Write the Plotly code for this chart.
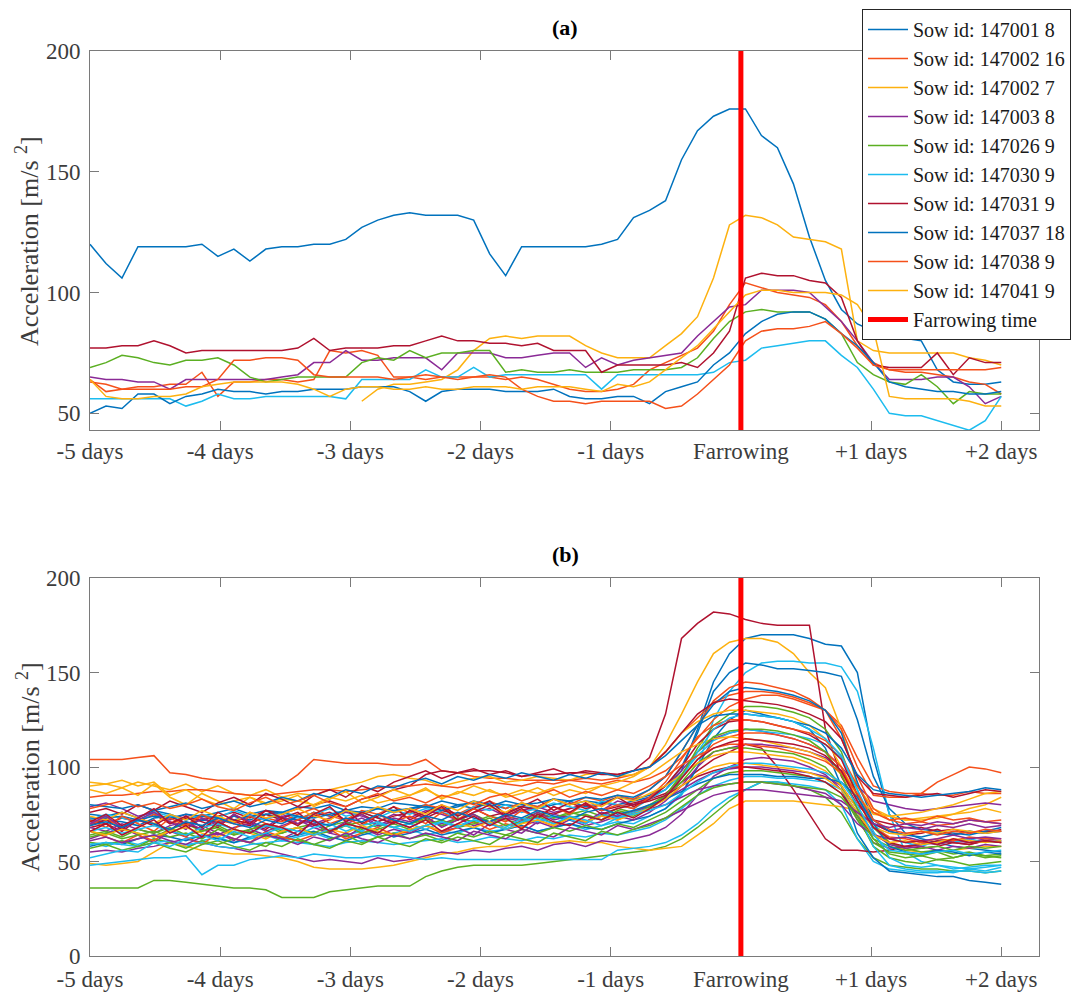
import plotly.graph_objects as go

# ---------------------------------------------------------------------------
# Time axis: days relative to farrowing, 58 readings from -5 to +2 days
# ---------------------------------------------------------------------------
n_samples = 58
days = [-5 + 7 * i / (n_samples - 1) for i in range(n_samples)]

tick_days = [-5, -4, -3, -2, -1, 0, 1, 2]
tick_text = ["-5 days", "-4 days", "-3 days", "-2 days", "-1 days",
             "Farrowing", "+1 days", "+2 days"]
farrowing_day = 0

# ---------------------------------------------------------------------------
# (a) Individual sows, acceleration [m/s^2]
# ---------------------------------------------------------------------------
sow_147001_8 = [
    120, 112, 106, 119, 119, 119, 119, 120, 115, 118, 113, 118, 119, 119, 120, 120, 122, 127, 130, 132,
    133, 132, 132, 132, 130, 116, 107, 119, 119, 119, 119, 119, 120, 122, 131, 134, 138, 155, 167, 173,
    176, 176, 165, 160, 145, 123, 105, 93, 87, 84, 82, 81, 80, 68, 63, 62, 62, 63]
sow_147002_16 = [
    64, 59, 60, 61, 61, 62, 62, 67, 57, 63, 63, 64, 64, 63, 64, 76, 75, 76, 74, 65,
    65, 64, 65, 65, 65, 65, 64, 65, 64, 62, 60, 59, 59, 60, 62, 68, 71, 74, 77, 84,
    95, 104, 102, 100, 99, 98, 95, 88, 78, 71, 68, 67, 67, 66, 65, 63, 62, 58]
sow_147002_7 = [None] * 17 + [
    55, 60, 62,
    62, 63, 64, 68, 76, 81, 82, 81, 82, 82, 82, 78, 75, 73, 73, 73, 78, 83, 90, 106,
    128, 132, 131, 128, 123, 122, 121, 118, 80, 76, 75, 75, 75, 75, 75, 73, 72, 70]
sow_147003_8 = [
    65, 64, 64, 63, 63, 60, 64, 64, 64, 64, 64, 64, 65, 66, 71, 71, 76, 72, 72, 73,
    73, 73, 68, 75, 75, 75, 73, 73, 74, 75, 75, 69, 73, 70, 72, 73, 74, 75, 82, 88,
    94, 95, 101, 101, 101, 100, 94, 88, 80, 71, 64, 64, 64, 65, 65, 61, 54, 57]
sow_147026_9 = [
    69, 71, 74, 73, 71, 70, 72, 72, 73, 70, 65, 63, 64, 65, 65, 65, 65, 71, 73, 72,
    76, 73, 75, 75, 76, 76, 67, 68, 67, 67, 68, 67, 67, 67, 68, 68, 68, 69, 73, 81,
    88, 92, 93, 92, 92, 92, 89, 83, 71, 66, 63, 62, 66, 61, 54, 59, 58, 58]
sow_147030_9 = [
    56, 56, 56, 56, 56, 56, 53, 55, 58, 56, 56, 57, 57, 57, 57, 57, 56, 64, 64, 64,
    64, 68, 65, 65, 69, 65, 66, 66, 66, 66, 66, 66, 60, 66, 66, 66, 66, 66, 66, 67,
    71, 72, 77, 78, 79, 80, 80, 74, 69, 60, 50, 49, 49, 47, 45, 43, 47, 57]
sow_147031_9 = [
    77, 77, 78, 78, 80, 78, 75, 76, 76, 76, 76, 76, 76, 77, 81, 76, 77, 77, 77, 78,
    78, 80, 82, 80, 80, 79, 79, 78, 79, 76, 76, 76, 67, 70, 70, 70, 70, 71, 69, 75,
    84, 106, 108, 107, 107, 105, 104, 98, 80, 70, 69, 69, 69, 75, 66, 73, 71, 71]
sow_147037_18 = [
    50, 53, 52, 58, 58, 54, 57, 58, 60, 59, 59, 58, 59, 59, 60, 60, 60, 61, 61, 61,
    59, 55, 59, 60, 60, 60, 59, 59, 59, 60, 57, 56, 56, 57, 57, 54, 59, 61, 63, 70,
    75, 83, 88, 91, 92, 92, 89, 83, 78, 71, 63, 61, 60, 59, 59, 58, 58, 59]
sow_147038_9 = [
    63, 62, 60, 60, 60, 60, 61, 61, 64, 72, 72, 73, 73, 72, 66, 65, 65, 65, 65, 64,
    65, 66, 65, 64, 65, 66, 65, 60, 57, 55, 55, 54, 55, 55, 55, 55, 52, 53, 58, 64,
    70, 80, 84, 85, 85, 86, 88, 83, 77, 70, 68, 68, 68, 68, 68, 68, 68, 69]
sow_147041_9 = [
    64, 57, 56, 56, 57, 57, 58, 61, 62, 63, 63, 63, 63, 62, 60, 57, 60, 61, 61, 60,
    60, 61, 60, 60, 61, 61, 61, 60, 61, 61, 61, 60, 59, 62, 61, 63, 68, 73, 78, 85,
    92, 99, 101, 101, 100, 100, 100, 99, 95, 85, 57, 56, 56, 56, 56, 55, 53, 53]

sow_names = ["Sow id: 147001 8", "Sow id: 147002 16", "Sow id: 147002 7",
             "Sow id: 147003 8", "Sow id: 147026 9", "Sow id: 147030 9",
             "Sow id: 147031 9", "Sow id: 147037 18", "Sow id: 147038 9",
             "Sow id: 147041 9"]
panel_a = [sow_147001_8, sow_147002_16, sow_147002_7, sow_147003_8, sow_147026_9,
           sow_147030_9, sow_147031_9, sow_147037_18, sow_147038_9, sow_147041_9]

# ---------------------------------------------------------------------------
# (b) All recorded farrowings
# ---------------------------------------------------------------------------
herd_01 = [75, 74, 76, 73, 77, 75, 72, 74, 76, 78, 75, 77, 76, 79, 78, 80, 77, 79, 78, 81,
           80, 79, 82, 80, 78, 81, 80, 79, 78, 80, 82, 79, 81, 80, 82, 84, 88, 98, 120, 145,
           160, 168, 170, 170, 170, 168, 165, 164, 150, 105, 75, 65, 62, 60, 58, 57, 56, 55]
herd_02 = [104, 104, 104, 105, 106, 97, 96, 94, 93, 93, 93, 93, 90, 96, 104, 103, 102, 102, 102, 101,
           101, 104, 98, 97, 95, 94, 94, 93, 93, 93, 93, 94, 93, 94, 96, 100, 108, 118, 126, 134,
           138, 140, 140, 139, 137, 134, 130, 122, 105, 90, 87, 86, 86, 92, 96, 100, 99, 97]
herd_03 = [90, 91, 89, 92, 90, 88, 91, 87, 90, 86, 85, 88, 84, 86, 85, 88, 90, 92, 95, 96,
           94, 93, 90, 92, 94, 95, 92, 93, 95, 94, 93, 96, 97, 95, 96, 100, 112, 128, 145, 160,
           166, 168, 168, 166, 160, 150, 142, 120, 90, 78, 74, 72, 72, 73, 75, 78, 80, 84]
herd_04 = [79, 81, 78, 74, 76, 72, 75, 73, 70, 74, 71, 73, 75, 72, 70, 73, 76, 74, 71, 75,
           73, 77, 75, 72, 76, 78, 74, 77, 79, 76, 78, 80, 77, 82, 80, 84, 90, 98, 108, 115,
           118, 120, 119, 117, 115, 112, 108, 100, 90, 82, 80, 78, 77, 78, 79, 80, 81, 80]
herd_05 = [36, 36, 36, 36, 40, 40, 39, 38, 37, 36, 36, 35, 31, 31, 31, 34, 35, 36, 37, 37,
           37, 42, 45, 47, 48, 48, 48, 48, 49, 50, 51, 52, 53, 54, 55, 56, 58, 62, 68, 75,
           82, 88, 92, 92, 90, 88, 84, 76, 62, 52, 48, 47, 46, 46, 45, 45, 44, 45]
herd_06 = [60, 58, 61, 59, 62, 60, 58, 61, 63, 60, 62, 64, 61, 63, 65, 62, 64, 66, 63, 65,
           67, 64, 66, 65, 68, 66, 67, 69, 66, 68, 70, 67, 69, 71, 70, 74, 78, 85, 100, 125,
           140, 150, 155, 156, 156, 155, 155, 153, 140, 110, 75, 55, 50, 48, 47, 46, 47, 48]
herd_07 = [72, 70, 73, 71, 75, 70, 73, 72, 74, 76, 73, 77, 75, 78, 80, 82, 79, 83, 85, 88,
           90, 96, 98, 97, 98, 98, 97, 95, 96, 96, 97, 97, 96, 96, 98, 105, 128, 168, 176, 182,
           181, 178, 176, 175, 175, 175, 120, 95, 80, 72, 70, 68, 68, 66, 67, 65, 66, 66]
herd_08 = [70, 72, 71, 69, 73, 74, 70, 72, 71, 74, 72, 75, 73, 72, 76, 74, 77, 75, 78, 76,
           78, 80, 77, 79, 82, 80, 78, 81, 79, 83, 80, 82, 81, 84, 83, 85, 90, 100, 118, 140,
           150, 155, 154, 152, 152, 151, 150, 148, 125, 95, 78, 70, 67, 66, 65, 64, 66, 68]
herd_09 = [84, 85, 85, 86, 87, 87, 88, 88, 87, 86, 85, 85, 86, 87, 88, 88, 87, 88, 89, 90,
           90, 91, 90, 89, 91, 92, 91, 90, 92, 91, 93, 92, 91, 93, 92, 94, 98, 105, 115, 125,
           132, 136, 138, 138, 136, 133, 130, 120, 100, 85, 84, 84, 86, 85, 85, 87, 86, 86]
herd_10 = [49, 48, 49, 50, 55, 60, 58, 56, 55, 54, 54, 53, 52, 50, 47, 46, 46, 46, 47, 48,
           50, 52, 54, 55, 57, 58, 58, 60, 59, 60, 61, 60, 60, 58, 57, 56, 57, 58, 64, 70,
           78, 82, 82, 82, 82, 81, 80, 79, 77, 70, 60, 56, 55, 55, 56, 57, 58, 58]
herd_11 = [55, 56, 55, 57, 58, 60, 62, 60, 58, 57, 55, 56, 54, 52, 50, 51, 50, 49, 52, 50,
           51, 53, 55, 54, 56, 55, 57, 58, 56, 59, 60, 58, 61, 60, 62, 64, 68, 75, 85, 95,
           100, 104, 105, 104, 103, 100, 96, 88, 72, 60, 57, 58, 60, 59, 61, 60, 62, 61]
herd_12 = [66, 64, 68, 65, 63, 67, 70, 66, 68, 64, 67, 69, 65, 68, 70, 66, 69, 71, 68, 72,
           70, 73, 69, 72, 75, 71, 74, 72, 76, 73, 75, 77, 74, 78, 76, 80, 85, 95, 110, 122,
           128, 132, 132, 131, 129, 126, 120, 108, 85, 68, 60, 57, 55, 56, 54, 55, 53, 54]
herd_13 = [48, 49, 50, 51, 52, 52, 53, 43, 48, 48, 51, 52, 53, 52, 54, 53, 52, 52, 53, 53,
           52, 51, 52, 51, 51, 51, 51, 51, 51, 51, 51, 51, 51, 56, 57, 58, 60, 64, 70, 78,
           84, 88, 92, 92, 91, 90, 88, 80, 62, 50, 46, 45, 44, 44, 45, 45, 44, 45]
herd_14 = [68, 70, 66, 72, 69, 74, 70, 67, 73, 71, 69, 75, 72, 70, 74, 76, 72, 75, 71, 74,
           76, 73, 77, 75, 78, 74, 76, 79, 77, 75, 78, 80, 77, 79, 81, 83, 86, 92, 98, 104,
           108, 112, 110, 100, 88, 75, 62, 56, 56, 55, 56, 58, 57, 58, 60, 59, 61, 60]
herd_15 = [58, 60, 59, 62, 64, 63, 61, 64, 62, 60, 63, 65, 62, 64, 66, 63, 61, 64, 66, 63,
           65, 67, 64, 66, 68, 65, 67, 69, 66, 68, 70, 68, 67, 70, 72, 74, 78, 86, 100, 115,
           125, 130, 128, 126, 124, 120, 110, 90, 65, 52, 45, 44, 43, 42, 42, 40, 39, 38]
herd_16 = [70, 73, 68, 72, 75, 71, 69, 74, 72, 70, 76, 73, 71, 75, 78, 74, 72, 77, 75, 79,
           76, 80, 78, 75, 79, 82, 78, 81, 79, 83, 80, 84, 82, 85, 83, 88, 95, 108, 122, 135,
           142, 145, 144, 142, 140, 136, 130, 115, 95, 78, 72, 70, 71, 69, 70, 72, 71, 70]
herd_17 = [92, 91, 93, 90, 92, 85, 88, 83, 80, 82, 84, 81, 83, 82, 80, 84, 82, 85, 81, 83,
           85, 88, 84, 86, 90, 87, 85, 88, 86, 89, 91, 88, 90, 92, 95, 100, 108, 118, 124, 128,
           130, 130, 129, 128, 126, 122, 115, 100, 85, 75, 74, 75, 76, 78, 80, 83, 86, 87]
herd_18 = [62, 65, 68, 64, 60, 66, 63, 69, 65, 61, 67, 64, 62, 66, 70, 65, 63, 68, 64, 67,
           65, 69, 66, 68, 64, 70, 67, 65, 71, 68, 72, 69, 71, 74, 72, 76, 82, 90, 100, 108,
           110, 112, 112, 111, 110, 108, 105, 98, 82, 70, 66, 68, 67, 69, 68, 70, 68, 69]
herd_19 = [60, 59, 61, 58, 62, 60, 57, 61, 59, 62, 60, 58, 63, 61, 59, 62, 64, 60, 63, 65,
           62, 64, 61, 65, 63, 66, 64, 67, 65, 68, 66, 69, 67, 70, 68, 72, 76, 82, 88, 94,
           97, 98, 98, 97, 96, 95, 92, 86, 72, 60, 55, 54, 53, 55, 52, 54, 53, 52]
herd_20 = [72, 75, 73, 71, 76, 74, 72, 75, 73, 77, 74, 72, 76, 73, 75, 78, 74, 76, 73, 77,
           75, 78, 76, 74, 79, 77, 80, 76, 78, 81, 79, 77, 82, 80, 78, 83, 88, 96, 106, 114,
           118, 120, 119, 118, 117, 115, 112, 105, 88, 70, 62, 60, 58, 61, 60, 62, 60, 61]
herd_21 = [69, 72, 67, 73, 70, 66, 74, 71, 68, 75, 70, 67, 73, 76, 69, 72, 78, 70, 74, 79,
           72, 76, 80, 74, 78, 82, 75, 79, 83, 77, 81, 78, 80, 84, 79, 83, 90, 100, 112, 120,
           124, 125, 124, 122, 120, 117, 112, 104, 85, 70, 66, 64, 65, 67, 64, 66, 65, 67]
herd_22 = [73, 73, 74, 72, 74, 73, 75, 74, 73, 72, 74, 75, 76, 74, 73, 75, 77, 76, 78, 77,
           78, 79, 77, 80, 81, 79, 82, 80, 81, 83, 82, 84, 83, 85, 84, 88, 95, 108, 122, 133,
           140, 142, 141, 140, 138, 135, 130, 118, 92, 72, 66, 64, 63, 65, 64, 66, 65, 66]
herd_23 = [66, 63, 60, 64, 61, 67, 63, 59, 65, 62, 60, 66, 63, 61, 64, 67, 62, 65, 68, 64,
           66, 69, 65, 68, 71, 67, 70, 68, 72, 69, 73, 71, 74, 72, 76, 78, 84, 94, 104, 112,
           116, 118, 118, 117, 115, 112, 108, 100, 82, 68, 63, 62, 60, 62, 61, 63, 62, 62]
herd_24 = [88, 86, 89, 85, 91, 84, 80, 86, 82, 78, 84, 80, 82, 85, 79, 83, 87, 81, 84, 88,
           85, 89, 83, 87, 85, 88, 84, 86, 89, 85, 88, 86, 90, 88, 92, 96, 102, 108, 112, 115,
           116, 115, 114, 112, 110, 108, 104, 96, 84, 76, 74, 72, 73, 74, 75, 76, 78, 76]
herd_25 = [68, 66, 70, 67, 65, 69, 71, 67, 64, 68, 70, 66, 69, 72, 68, 65, 70, 73, 69, 71,
           68, 72, 70, 73, 69, 71, 74, 72, 70, 75, 73, 71, 76, 74, 77, 79, 83, 88, 93, 97,
           99, 100, 100, 99, 98, 97, 95, 90, 78, 65, 59, 57, 58, 56, 58, 57, 59, 58]
herd_26 = [64, 66, 63, 67, 65, 68, 64, 66, 69, 65, 67, 70, 66, 68, 65, 69, 71, 67, 70, 68,
           70, 72, 69, 73, 71, 74, 72, 70, 75, 73, 76, 74, 72, 77, 75, 79, 84, 92, 102, 108,
           110, 110, 109, 108, 107, 104, 100, 90, 74, 58, 52, 50, 49, 51, 50, 48, 49, 50]
herd_27 = [59, 60, 59, 58, 60, 61, 59, 60, 58, 57, 59, 60, 61, 60, 59, 58, 60, 61, 60, 59,
           60, 61, 62, 60, 61, 63, 62, 61, 63, 62, 64, 63, 65, 64, 66, 68, 72, 78, 85, 90,
           93, 95, 95, 94, 94, 93, 92, 88, 76, 58, 48, 46, 45, 45, 44, 46, 45, 47]
herd_28 = [76, 78, 75, 80, 77, 82, 79, 76, 81, 84, 80, 86, 83, 79, 85, 88, 84, 90, 87, 92,
           95, 98, 94, 97, 99, 96, 98, 95, 97, 99, 96, 98, 97, 96, 98, 100, 108, 118, 128, 134,
           136, 135, 134, 133, 131, 128, 124, 115, 95, 86, 85, 84, 85, 86, 84, 86, 88, 87]
herd_29 = [80, 79, 78, 80, 77, 79, 81, 78, 80, 82, 79, 81, 84, 82, 86, 84, 88, 86, 90, 89,
           92, 94, 91, 95, 93, 96, 94, 97, 95, 93, 96, 94, 97, 95, 98, 100, 106, 114, 122, 127,
           128, 128, 127, 126, 124, 122, 118, 110, 96, 88, 86, 85, 84, 85, 86, 87, 89, 88]
herd_30 = [72, 68, 74, 70, 66, 73, 69, 75, 71, 67, 74, 70, 68, 72, 76, 70, 73, 69, 75, 71,
           74, 70, 76, 72, 78, 74, 71, 77, 73, 79, 75, 81, 77, 80, 78, 84, 92, 104, 116, 122,
           125, 125, 124, 122, 120, 118, 114, 106, 90, 76, 72, 73, 71, 74, 72, 73, 71, 72]
herd_31 = [74, 72, 76, 73, 70, 75, 72, 77, 74, 71, 76, 73, 75, 78, 74, 72, 77, 75, 79, 76,
           78, 75, 80, 77, 82, 79, 76, 81, 78, 83, 80, 82, 79, 84, 82, 86, 90, 96, 102, 106,
           108, 108, 107, 106, 105, 102, 98, 90, 78, 68, 65, 64, 66, 65, 67, 66, 65, 66]
herd_32 = [70, 74, 68, 72, 76, 71, 67, 73, 69, 75, 71, 68, 74, 70, 72, 66, 71, 75, 69, 73,
           71, 74, 68, 72, 75, 70, 73, 71, 76, 72, 74, 70, 75, 73, 76, 78, 80, 84, 88, 90,
           91, 92, 92, 91, 90, 88, 86, 80, 70, 64, 62, 63, 61, 62, 64, 62, 63, 62]
herd_33 = [63, 65, 62, 64, 66, 63, 65, 62, 67, 64, 66, 63, 65, 68, 64, 66, 69, 65, 67, 70,
           67, 69, 72, 68, 70, 73, 69, 71, 74, 70, 73, 75, 72, 76, 74, 78, 85, 96, 108, 116,
           119, 120, 120, 119, 117, 114, 108, 96, 78, 62, 58, 56, 57, 58, 56, 58, 57, 58]
herd_34 = [66, 68, 65, 67, 69, 66, 64, 68, 70, 67, 65, 69, 67, 64, 68, 70, 66, 69, 71, 68,
           70, 67, 71, 69, 72, 70, 68, 73, 71, 74, 72, 70, 75, 73, 76, 78, 84, 94, 108, 120,
           126, 128, 127, 126, 124, 120, 115, 106, 88, 66, 52, 48, 47, 48, 46, 47, 48, 48]
herd_35 = [71, 75, 69, 73, 78, 70, 74, 68, 76, 72, 70, 77, 73, 69, 75, 79, 71, 76, 73, 70,
           77, 74, 79, 72, 76, 80, 74, 78, 73, 79, 76, 81, 75, 78, 80, 82, 85, 90, 95, 98,
           100, 100, 99, 98, 97, 95, 92, 86, 74, 64, 60, 58, 59, 61, 60, 59, 61, 60]
herd_36 = [69, 71, 68, 72, 70, 67, 71, 69, 73, 70, 68, 72, 70, 74, 71, 69, 73, 71, 75, 72,
           70, 74, 72, 76, 73, 71, 75, 73, 77, 74, 72, 76, 78, 75, 77, 80, 83, 87, 91, 94,
           96, 96, 96, 95, 95, 94, 94, 92, 84, 70, 58, 55, 54, 56, 55, 53, 55, 54]
herd_37 = [78, 80, 82, 79, 81, 78, 80, 83, 79, 77, 81, 84, 80, 82, 85, 81, 79, 83, 86, 82,
           84, 81, 85, 83, 80, 84, 86, 82, 85, 88, 84, 87, 85, 88, 86, 90, 95, 101, 106, 110,
           112, 112, 111, 110, 108, 106, 103, 97, 86, 72, 67, 65, 66, 64, 66, 65, 67, 66]
herd_38 = [66, 64, 67, 65, 63, 66, 68, 65, 63, 67, 65, 62, 66, 68, 64, 67, 65, 69, 66, 64,
           67, 69, 66, 70, 68, 71, 67, 70, 72, 69, 73, 71, 74, 72, 75, 78, 83, 90, 96, 100,
           102, 102, 101, 100, 99, 97, 94, 88, 76, 64, 60, 61, 59, 60, 62, 61, 60, 61]
herd_39 = [61, 63, 60, 62, 64, 61, 59, 63, 65, 62, 60, 64, 62, 59, 63, 61, 65, 62, 60, 64,
           62, 65, 63, 61, 66, 64, 62, 67, 65, 63, 68, 66, 64, 69, 67, 70, 73, 77, 81, 85,
           87, 88, 88, 87, 86, 85, 84, 82, 76, 70, 68, 70, 69, 71, 70, 72, 71, 70]
herd_40 = [57, 59, 56, 58, 60, 57, 55, 59, 61, 58, 56, 60, 58, 62, 59, 57, 61, 59, 63, 60,
           58, 62, 60, 63, 61, 59, 64, 62, 60, 65, 63, 61, 66, 64, 67, 69, 73, 79, 85, 89,
           91, 92, 92, 91, 90, 89, 88, 84, 74, 62, 54, 52, 53, 51, 52, 54, 52, 53]
herd_41 = [52, 54, 56, 55, 60, 58, 62, 64, 61, 66, 63, 65, 68, 66, 64, 67, 69, 66, 70, 68,
           66, 69, 71, 68, 72, 70, 67, 71, 73, 70, 74, 72, 69, 73, 75, 77, 80, 86, 92, 97,
           100, 102, 102, 101, 100, 99, 97, 92, 80, 64, 56, 55, 54, 55, 56, 54, 55, 56]
herd_42 = [66, 70, 64, 68, 72, 65, 69, 63, 71, 67, 65, 70, 68, 64, 72, 66, 70, 68, 65, 71,
           68, 72, 66, 70, 74, 69, 73, 67, 75, 71, 69, 74, 72, 76, 73, 78, 84, 94, 104, 110,
           113, 115, 114, 113, 112, 110, 106, 98, 82, 68, 62, 60, 61, 59, 62, 60, 61, 60]

panel_b = [herd_01, herd_02, herd_03, herd_04, herd_05, herd_06, herd_07, herd_08,
           herd_09, herd_10, herd_11, herd_12, herd_13, herd_14, herd_15, herd_16,
           herd_17, herd_18, herd_19, herd_20, herd_21, herd_22, herd_23, herd_24,
           herd_25, herd_26, herd_27, herd_28, herd_29, herd_30, herd_31, herd_32,
           herd_33, herd_34, herd_35, herd_36, herd_37, herd_38, herd_39, herd_40,
           herd_41, herd_42]

# ---------------------------------------------------------------------------
# Styling
# ---------------------------------------------------------------------------
palette = ["#0072BD", "#F5501A", "#FDB10F", "#8A2A96", "#5BAF22", "#1CBCEF", "#B0122F"]
farrow_red = "#FF0000"
serif = "Liberation Serif"
axis_grey = "#7a7a7a"
text_grey = "#3c3c3c"
W, H = 1076, 992

x_domain = [90 / W, 1039 / W]
ya_domain = [1 - 430 / H, 1 - 51 / H]
yb_domain = [1 - 956 / H, 1 - 578 / H]
ya_range = [43.1, 200]
yb_range = [0, 200]
x_range = [-5, 2.29]

fig = go.Figure()

for i, (name, vals) in enumerate(zip(sow_names, panel_a)):
    fig.add_trace(go.Scatter(
        x=days, y=vals, mode="lines", name=name,
        line=dict(color=palette[i % 7], width=1.5),
        xaxis="x", yaxis="y"))

# legend entry for the farrowing marker (the marker itself is a shape below)
fig.add_trace(go.Scatter(
    x=[None], y=[None], mode="lines", name="Farrowing time",
    line=dict(color=farrow_red, width=5), xaxis="x", yaxis="y"))

for i, vals in enumerate(panel_b):
    fig.add_trace(go.Scatter(
        x=days, y=vals, mode="lines", showlegend=False,
        line=dict(color=palette[i % 7], width=1.5),
        xaxis="x2", yaxis="y2"))

shapes = [
    dict(type="line", xref="x", yref="y domain", x0=farrowing_day, x1=farrowing_day,
         y0=0, y1=1, line=dict(color=farrow_red, width=5), layer="above"),
    dict(type="line", xref="x2", yref="y2 domain", x0=farrowing_day, x1=farrowing_day,
         y0=0, y1=1, line=dict(color=farrow_red, width=5), layer="above"),
]


def axis_common():
    return dict(showline=True, linecolor=axis_grey, linewidth=1, mirror="ticks",
                ticks="inside", ticklen=9, tickcolor=axis_grey, tickwidth=1,
                showgrid=False, zeroline=False, automargin=False,
                tickfont=dict(family=serif, size=23, color=text_grey))


xa = axis_common()
xa.update(domain=x_domain, range=x_range, tickvals=tick_days, ticktext=tick_text, anchor="y")
xb = axis_common()
xb.update(domain=x_domain, range=x_range, tickvals=tick_days, ticktext=tick_text, anchor="y2",
          ticklabelstandoff=2)
ya = axis_common()
ya.update(domain=ya_domain, range=ya_range, tickvals=[50, 100, 150, 200], anchor="x",
          ticklabelstandoff=4)
yb = axis_common()
yb.update(domain=yb_domain, range=yb_range, tickvals=[0, 50, 100, 150, 200], anchor="x2",
          ticklabelstandoff=4)

y_title = "Acceleration [m/s <sup>2</sup>]"
centred = dict(xref="paper", yref="paper", xanchor="center", yanchor="middle",
               showarrow=False)
annotations = [
    dict(text="<b>(a)</b>", x=565 / W, y=1 - 27 / H,
         font=dict(family=serif, size=22, color="#000000"), **centred),
    dict(text="<b>(b)</b>", x=565 / W, y=1 - 554 / H,
         font=dict(family=serif, size=22, color="#000000"), **centred),
    dict(text=y_title, x=28 / W, y=1 - 241 / H, textangle=-90,
         font=dict(family=serif, size=26, color=text_grey), **centred),
    dict(text=y_title, x=28 / W, y=1 - 767 / H, textangle=-90,
         font=dict(family=serif, size=26, color=text_grey), **centred),
]

fig.update_layout(
    width=W, height=H,
    margin=dict(l=0, r=0, t=0, b=0, autoexpand=False),
    paper_bgcolor="white", plot_bgcolor="white",
    xaxis=xa, yaxis=ya, xaxis2=xb, yaxis2=yb,
    annotations=annotations, shapes=shapes,
    showlegend=True,
    legend=dict(x=862 / W, y=1 - 9 / H, xanchor="left", yanchor="top",
                bgcolor="white", bordercolor="#262626", borderwidth=1,
                font=dict(family=serif, size=20, color="#1a1a1a"),
                traceorder="normal", itemwidth=40),
)

fig.write_html("out.html")
